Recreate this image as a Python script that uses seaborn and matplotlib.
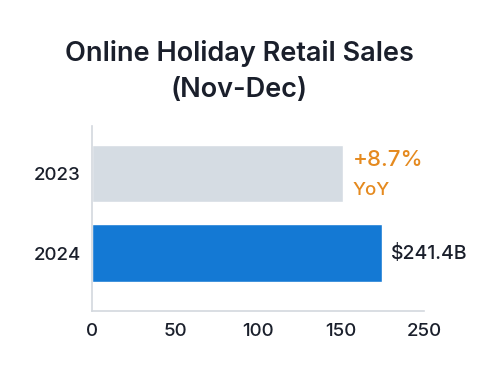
import matplotlib
matplotlib.use("Agg")
import matplotlib.pyplot as plt
import seaborn as sns
import pandas as pd

years = ["2023", "2024"]
sales = [151, 175]
bar_colors = ["#d5dce3", "#1479d4"]
tick_values = [0, 50, 100, 150, 200]
tick_labels = ["0", "50", "100", "150", "250"]
yoy_pct = "+8.7%"
yoy_label = "YoY"
total_text = "$241.4B"

sns.set_style("white")
plt.rcParams["font.family"] = ["Inter", "DejaVu Sans"]

df = pd.DataFrame({"year": years, "sales": sales})

fig = plt.figure(figsize=(4.78, 3.65), dpi=100)
ax = fig.add_axes([0.1925, 0.148, 0.6945, 0.507])
sns.barplot(data=df, x="sales", y="year", hue="year", palette=bar_colors,
            legend=False, width=0.72, ax=ax, saturation=1)

ax.set_xlim(0, 199)
ax.set_ylim(1.73, -0.6)
ax.set_xticks(tick_values)
ax.set_xticklabels(tick_labels)
ax.tick_params(axis="both", length=0, labelsize=13.5, colors="#1a1f2b")
ax.tick_params(axis="x", pad=9)
ax.tick_params(axis="y", pad=8)
for lbl in ax.get_xticklabels() + ax.get_yticklabels():
    lbl.set_fontweight("medium")
ax.set_xlabel("")
ax.set_ylabel("")
for s in ["top", "right"]:
    ax.spines[s].set_visible(False)
for s in ["left", "bottom"]:
    ax.spines[s].set_color("#d3d8de")
    ax.spines[s].set_linewidth(1.2)

# YoY note next to the 2023 bar
ax.text(sales[0] + 6, -0.17, yoy_pct, color="#e58a1f", fontsize=16,
        fontweight="medium", va="center", ha="left")
ax.text(sales[0] + 6, 0.21, yoy_label, color="#e58a1f", fontsize=13.5,
        fontweight="medium", va="center", ha="left")
ax.text(sales[1] + 5, 1, total_text, color="#1a1f2b", fontsize=14,
        fontweight="medium", va="center", ha="left")

fig.text(0.5, 0.805, "Online Holiday Retail Sales\n(Nov-Dec)", ha="center",
         va="center", fontsize=19.5, fontweight="semibold", color="#1a1f2b",
         linespacing=1.5)

fig.savefig("out.png", dpi=100, facecolor="white")
